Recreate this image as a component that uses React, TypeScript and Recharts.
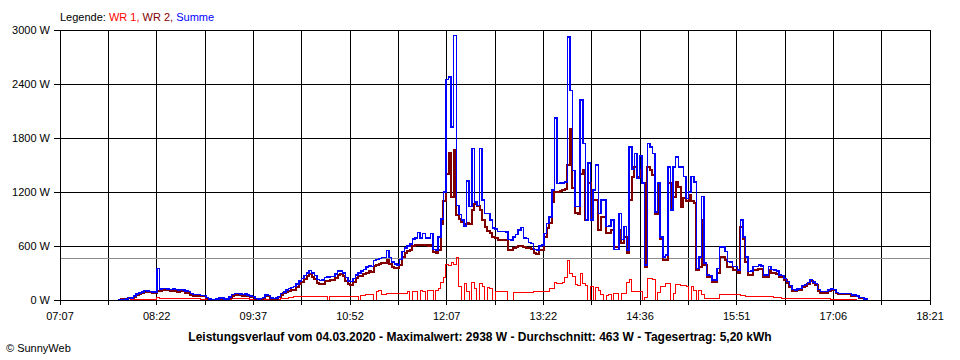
import React from 'react';
import { LineChart, Line, XAxis, YAxis, CartesianGrid, ReferenceLine } from 'recharts';

// one sample every 2 minutes, starting 07:52 (minutes after midnight)
const START_MIN = 472;
const STEP_MIN = 2;

const SUMME = [
  5, 8, 8, 10, 30, 25, 45, 65, 80, 90,
  105, 100, 92, 90, 88, 350, 125, 130, 128, 125,
  118, 120, 115, 110, 118, 112, 100, 92, 70, 62,
  62, 60, 52, 50, 30, 10, 8, 8, 10, 22,
  20, 10, 12, 35, 62, 72, 72, 68, 62, 66,
  55, 45, 40, 15, 12, 14, 30, 55, 50, 25,
  18, 20, 40, 70, 90, 110, 130, 140, 150, 180,
  210, 240, 270, 300, 330, 300, 270, 230, 215, 220,
  250, 255, 260, 262, 290, 320, 325, 300, 250, 210,
  205, 240, 280, 300, 320, 340, 365, 380, 370, 440,
  450, 460, 470, 470, 550, 470, 420, 400, 390, 450,
  540, 580, 600, 620, 680, 690, 750, 690, 740, 690,
  690, 740, 560, 555, 700, 900, 1200, 2450, 2480, 1920,
  2938, 1050, 950, 890, 820, 1320, 1040, 1685, 1090, 1050,
  1685, 1110, 960, 960, 890, 800, 790, 760, 760, 760,
  755, 670, 665, 700, 730, 780, 805, 690, 685, 640,
  630, 560, 555, 600, 610, 740, 850, 925, 1220, 2020,
  1296, 1300, 1300, 1310, 2920, 2330, 1440, 1040, 1040, 2220,
  1740, 890, 1520, 890, 1220, 1500, 960, 1110, 1110, 815,
  820, 890, 560, 560, 960, 670, 815, 555, 1700, 1450,
  1630, 1350, 1600, 1300, 390, 1740, 1700, 1630, 980, 1300,
  700, 480, 500, 1480, 1000, 1480, 1590, 1480, 1480, 1370,
  1130, 1200, 1370, 1310, 350, 480, 1150, 410, 280, 270,
  222, 222, 350, 590, 590, 537, 430, 420, 370, 370,
  333, 890, 700, 480, 315, 320, 370, 370, 390, 380,
  278, 280, 370, 340, 333, 325, 280, 275, 240, 205,
  160, 115, 110, 125, 130, 160, 170, 195, 230, 200,
  185, 115, 95, 92, 92, 110, 120, 118, 82, 75,
  75, 75, 74, 70, 55, 55, 45, 26, 26, 10, 0,
];

const WR2 = [
  5, 8, 8, 10, 25, 20, 38, 58, 70, 80,
  95, 90, 85, 82, 80, 100, 105, 110, 110, 108,
  102, 103, 95, 90, 100, 96, 82, 76, 55, 50,
  50, 48, 42, 40, 22, 5, 3, 3, 5, 14,
  12, 2, 4, 25, 50, 60, 60, 56, 50, 54,
  43, 35, 30, 7, 7, 9, 22, 45, 40, 15,
  10, 12, 30, 58, 75, 90, 105, 110, 115, 143,
  173, 203, 232, 262, 290, 260, 232, 192, 177, 180,
  210, 215, 222, 222, 250, 280, 285, 262, 213, 173,
  165, 200, 240, 262, 270, 285, 305, 320, 315, 380,
  390, 400, 410, 410, 450, 400, 370, 360, 355, 390,
  480, 520, 540, 560, 600, 610, 615, 610, 615, 610,
  600, 610, 535, 520, 560, 850, 1100, 1400, 1630, 1150,
  1667, 950, 900, 870, 840, 860, 850, 1000, 1070, 1040,
  1000, 890, 815, 770, 740, 700, 690, 670, 667, 667,
  667, 560, 555, 580, 590, 600, 600, 585, 580, 575,
  570, 518, 515, 560, 560, 700, 800, 852, 1092, 1204,
  1204, 1210, 1220, 1230, 1500, 1900, 1250, 965, 960, 1400,
  1444, 889, 1296, 889, 1111, 1111, 778, 925, 925, 740,
  740, 778, 592, 592, 778, 630, 700, 518, 1111, 1370,
  1480, 1370, 1450, 1300, 370, 1481, 1444, 1389, 960, 1296,
  680, 444, 444, 1296, 1000, 1148, 1315, 1259, 1037, 1130,
  1100, 1167, 1100, 1074, 333, 370, 889, 390, 259, 255,
  205, 205, 300, 481, 481, 444, 370, 370, 333, 333,
  300, 815, 680, 420, 278, 280, 333, 333, 350, 340,
  259, 259, 330, 300, 296, 290, 260, 255, 225, 190,
  145, 100, 95, 110, 115, 145, 155, 180, 210, 185,
  170, 100, 80, 80, 80, 98, 110, 108, 74, 67,
  67, 67, 66, 65, 50, 52, 45, 26, 26, 10, 0,
];

const WR1 = [
  0, 0, 0, 0, 0, 3, 5, 5, 8, 8,
  8, 8, 8, 8, 8, 25, 22, 18, 18, 15,
  15, 15, 20, 20, 15, 15, 18, 15, 15, 12,
  12, 12, 10, 10, 8, 5, 5, 5, 5, 8,
  8, 8, 8, 10, 12, 12, 12, 12, 12, 12,
  12, 10, 10, 8, 5, 5, 8, 10, 10, 10,
  8, 8, 10, 12, 15, 20, 25, 30, 35, 37,
  37, 37, 38, 38, 40, 40, 38, 38, 38, 40,
  40, 0, 37, 40, 40, 40, 40, 37, 37, 37,
  37, 37, 37, 0, 55, 55, 60, 60, 58, 0,
  100, 105, 60, 65, 68, 70, 68, 70, 68, 70,
  72, 70, 95, 0, 100, 92, 0, 105, 100, 0,
  105, 110, 0, 110, 130, 200, 250, 400, 380, 420,
  390, 470, 150, 0, 185, 100, 0, 190, 130, 0,
  180, 150, 0, 140, 130, 0, 100, 100, 100, 100,
  100, 0, 0, 85, 85, 85, 82, 82, 82, 82,
  82, 90, 92, 92, 95, 92, 100, 130, 130, 200,
  180, 185, 190, 250, 440, 300, 260, 170, 160, 300,
  180, 160, 0, 150, 0, 140, 110, 60, 0, 55,
  60, 0, 70, 75, 0, 75, 70, 200, 230, 90,
  95, 90, 95, 0, 30, 240, 240, 225, 0, 80,
  150, 150, 185, 185, 0, 75, 170, 170, 165, 165,
  150, 0, 150, 110, 0, 110, 60, 20, 20, 20,
  20, 20, 20, 63, 63, 63, 63, 63, 63, 63,
  63, 55, 55, 37, 37, 37, 37, 37, 37, 37,
  37, 37, 37, 37, 30, 30, 25, 22, 20, 18,
  18, 18, 18, 18, 18, 18, 18, 15, 15, 15,
  15, 15, 15, 12, 12, 12, 10, 10, 8, 8,
  8, 8, 8, 5, 5, 3, 0, 0, 0, 0, 0,
];

const TIME_LABELS = ['07:07', '08:22', '09:37', '10:52', '12:07', '13:22', '14:36', '15:51', '17:06', '18:21'];
const Y_TICKS = [0, 600, 1200, 1800, 2400, 3000];
const AVERAGE_W = 463;
const TITLE = 'Leistungsverlauf vom 04.03.2020 - Maximalwert: 2938 W - Durchschnitt: 463 W - Tagesertrag: 5,20 kWh';

const X_MIN = 427;   // 07:07
const X_MAX = 1101;  // 18:21
const GRID_TICKS = Array.from({ length: 19 }, (_, i) => X_MIN + (i * (X_MAX - X_MIN)) / 18);

const rows = SUMME.map((v, i) => ({
  t: START_MIN + i * STEP_MIN,
  summe: v,
  wr2: WR2[i],
  wr1: WR1[i],
}));

const FONT = "'Liberation Sans', Arial, sans-serif";

export default function App() {
  return (
    <div style={{ position: 'absolute', left: 0, top: 0, width: 960, height: 360, background: '#fff', fontFamily: FONT, color: '#000' }}>
      <div style={{ position: 'absolute', left: 60, top: 11, fontSize: 11, whiteSpace: 'nowrap' }}>
        Legende: <span style={{ color: '#ff0000' }}>WR 1, </span>
        <span style={{ color: '#800000' }}>WR 2, </span>
        <span style={{ color: '#0000ff' }}>Summe</span>
      </div>
      <div style={{ shapeRendering: 'crispEdges' }}>
        <LineChart width={960} height={360} data={rows} margin={{ top: 30, right: 30, bottom: 0, left: 0 }}>
          <CartesianGrid stroke="#000" strokeWidth={1} />
          <XAxis
            dataKey="t"
            type="number"
            domain={[X_MIN, X_MAX]}
            ticks={GRID_TICKS}
            interval={0}
            height={60}
            tickSize={5}
            tickMargin={7}
            axisLine={{ stroke: '#000' }}
            tickLine={{ stroke: '#000' }}
            tick={{ fill: '#000', fontSize: 11, fontFamily: FONT }}
            tickFormatter={(_v: number, i: number) => (i % 2 === 0 ? TIME_LABELS[i / 2] : '')}
          />
          <YAxis
            type="number"
            domain={[0, 3000]}
            ticks={Y_TICKS}
            width={60}
            tickSize={6}
            tickMargin={4}
            axisLine={{ stroke: '#000' }}
            tickLine={{ stroke: '#000' }}
            tick={{ fill: '#000', fontSize: 11, fontFamily: FONT }}
            tickFormatter={(v: number) => `${v} W`}
          />
          <ReferenceLine y={AVERAGE_W} stroke="#8c8c8c" strokeWidth={1} />
          <Line type="stepAfter" dataKey="wr1" stroke="#ff0000" strokeWidth={1} dot={false} isAnimationActive={false} />
          <Line type="stepAfter" dataKey="wr2" stroke="#800000" strokeWidth={2} dot={false} isAnimationActive={false} />
          <Line type="stepAfter" dataKey="summe" stroke="#0000ff" strokeWidth={1.5} dot={false} isAnimationActive={false} />
        </LineChart>
      </div>
      <div style={{ position: 'absolute', left: 0, top: 330, width: 960, textAlign: 'center', fontSize: 12, fontWeight: 'bold', whiteSpace: 'nowrap' }}>
        {TITLE}
      </div>
      <div style={{ position: 'absolute', left: 6, top: 342, fontSize: 11, whiteSpace: 'nowrap' }}>
        © SunnyWeb
      </div>
    </div>
  );
}
